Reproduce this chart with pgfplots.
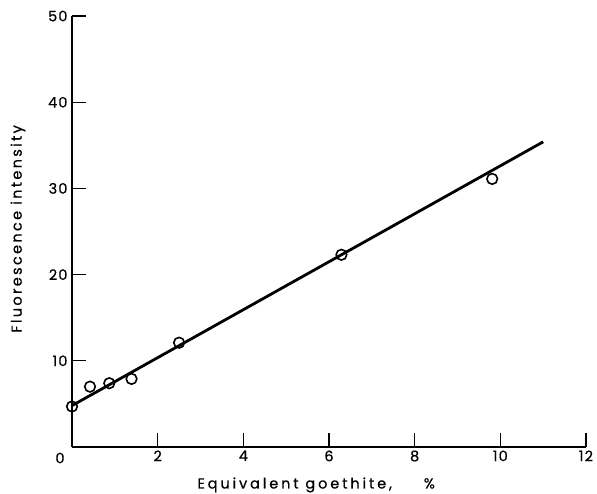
\documentclass[border=0pt]{standalone}
\usepackage{fontspec}
\setmainfont{Poppins}
\newfontfamily\ylblfont[LetterSpace=16, FakeBold=0.6]{Poppins}
\newfontfamily\xlblfont[LetterSpace=20, FakeBold=0.6]{Poppins}
\newfontfamily\tickfont[LetterSpace=8, FakeBold=0.5]{Poppins}
\usepackage{pgfplots}
\pgfplotsset{compat=1.18}
\begin{document}
\begin{tikzpicture}
  \begin{axis}[
    name=ax,
    scale only axis,
    width=514pt, height=431pt,
    xmin=0, xmax=12, ymin=0, ymax=50,
    axis lines*=left,
    axis line style={line width=1.6pt},
    xtick={0,2,4,6,8,10,12},
    xticklabels={,2,4,6,8,10,12},
    ytick={10,20,30,40,50},
    tick align=inside,
    major tick length=14pt,
    tick style={line width=1.3pt, black},
    /pgf/number format/assume math mode=true,
    ticklabel style={font=\fontsize{14.5}{16}\tickfont},
    yticklabel style={xshift=-1pt},
    xlabel={Equivalent goethite,\hspace{2.2em}\%},
    ylabel={Fluorescence intensity},
    xlabel style={font=\fontsize{14.5}{16}\xlblfont, at={(axis description cs:0.475,-0.088)}, anchor=center},
    ylabel style={font=\fontsize{14.5}{16}\ylblfont, at={(axis description cs:-0.105,0.506)}, anchor=center},
    clip=false,
  ]
    % fitted line
    \addplot[black, line width=2.8pt] coordinates {(0,4.8) (11,35.4)};
    % measured points
    \addplot[only marks, mark=o, mark size=5.3pt,
             mark options={fill=white, line width=1.6pt}] coordinates {
      (0,4.7) (0.42,7.0) (0.87,7.4) (1.39,7.9) (2.5,12.1) (6.29,22.3) (9.81,31.1)
    };
    \node[font=\fontsize{14.5}{16}\tickfont] at (rel axis cs:0,0) [xshift=-12pt, yshift=-11pt] {0};
  \end{axis}
  \pgfresetboundingbox
  \path ([xshift=-72pt,yshift=-46pt]ax.south west) rectangle ([xshift=11pt,yshift=16pt]ax.north east);
\end{tikzpicture}
\end{document}
